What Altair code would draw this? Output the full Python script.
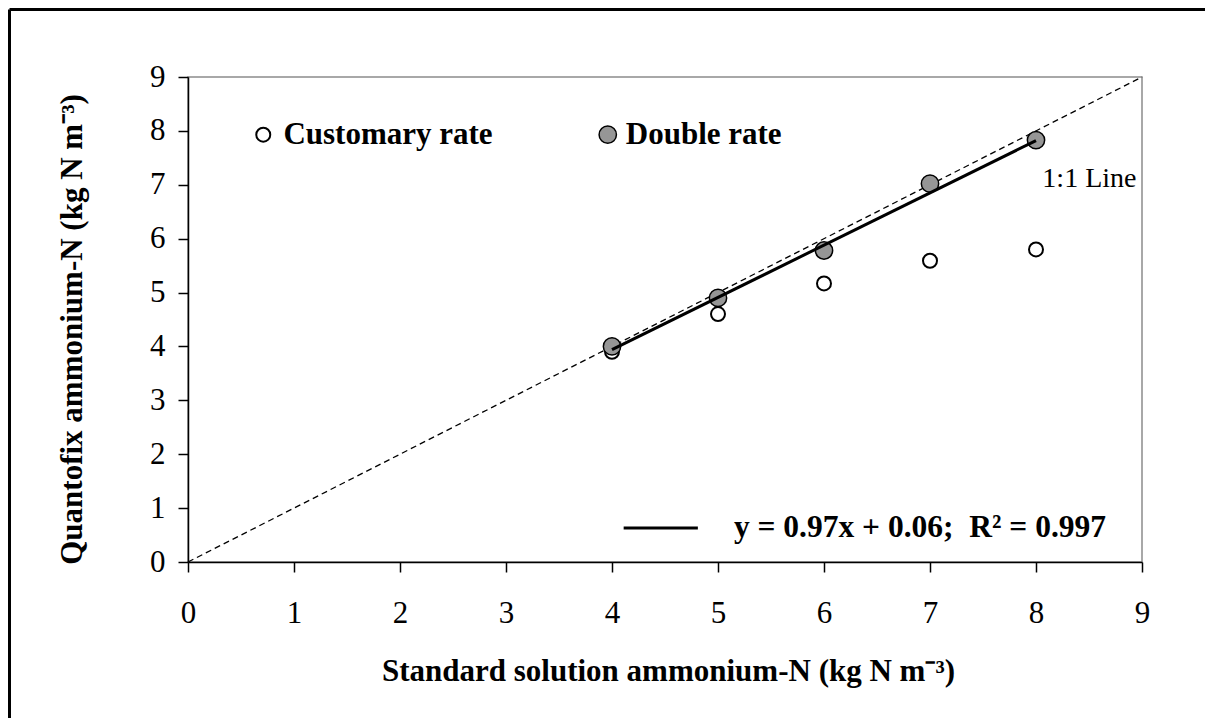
import altair as alt
import pandas as pd

# ---- data ----
x_std = [4, 5, 6, 7, 8]
customary = [3.90, 4.60, 5.17, 5.59, 5.80]
double = [4.00, 4.90, 5.78, 7.02, 7.83]
fit_x = [4, 8]
fit_y = [3.94, 7.82]
one_x = [0, 9]
one_y = [0, 9]
tick_vals = [0, 1, 2, 3, 4, 5, 6, 7, 8, 9]

legend_names = ["Customary rate", "Double rate"]
legend_sym_x = [0.71, 3.96]
legend_txt_x = [0.90, 4.13]
legend_y = [7.93, 7.93]

eq_text = "y = 0.97x + 0.06;\u00a0 R\u00b2 = 0.997"
eq_line_x = [4.11, 4.81]
eq_y = 0.63
eq_text_x = 5.15
one_label = "1:1 Line"
one_label_pos = [8.06, 7.11]

x_title = "Standard solution ammonium-N (kg N m\u207b\u00b3)"
y_title = "Quantofix ammonium-N (kg N m\u207b\u00b3)"

W, H = 954, 485
FONT = "Liberation Serif"
GRAY = "#969696"

xs = alt.Scale(domain=[0, 9], nice=False, zero=False)
ys = alt.Scale(domain=[0, 9], nice=False, zero=False)
x_axis = alt.Axis(values=tick_vals, labelPadding=26, titleX=480, titleY=109,
                  titleBaseline="middle", titleAlign="center")
y_axis = alt.Axis(values=tick_vals, labelPadding=13, titleX=-116, titleY=252,
                  titleBaseline="middle", titleAlign="center", titleAngle=270)


def X(field):
    return alt.X(field, scale=xs, title=x_title, axis=x_axis)


def Y(field):
    return alt.Y(field, scale=ys, title=y_title, axis=y_axis)


pts = pd.DataFrame({"x": x_std, "c": customary, "d": double})
fit = pd.DataFrame({"x": fit_x, "y": fit_y})
one = pd.DataFrame({"x": one_x, "y": one_y})

open_pts = alt.Chart(pts).mark_point(
    shape="circle", filled=True, fill="white", stroke="black", strokeWidth=2, size=196, opacity=1
).encode(x=X("x:Q"), y=Y("c:Q"))

gray_pts = alt.Chart(pts).mark_point(
    shape="circle", filled=True, fill=GRAY, stroke="black", strokeWidth=1.5, size=300, opacity=1
).encode(x=X("x:Q"), y=Y("d:Q"))

one_line = alt.Chart(one).mark_line(color="black", strokeWidth=1.3, strokeDash=[6, 4]).encode(
    x=X("x:Q"), y=Y("y:Q"))

fit_line = alt.Chart(fit).mark_line(color="black", strokeWidth=3).encode(
    x=X("x:Q"), y=Y("y:Q"))

leg_sym = pd.DataFrame({"x": legend_sym_x, "y": legend_y, "s": legend_names})
leg_open = alt.Chart(leg_sym.iloc[[0]]).mark_point(
    shape="circle", filled=True, fill="white", stroke="black", strokeWidth=2, size=196, opacity=1
).encode(x=X("x:Q"), y=Y("y:Q"))
leg_gray = alt.Chart(leg_sym.iloc[[1]]).mark_point(
    shape="circle", filled=True, fill=GRAY, stroke="black", strokeWidth=1.5, size=300, opacity=1
).encode(x=X("x:Q"), y=Y("y:Q"))

leg_txt = alt.Chart(pd.DataFrame({"x": legend_txt_x, "y": legend_y, "t": legend_names})).mark_text(
    align="left", baseline="middle", font=FONT, fontSize=31, fontWeight="bold", color="black"
).encode(x=X("x:Q"), y=Y("y:Q"), text="t:N")

eq_key = alt.Chart(pd.DataFrame({"x": [eq_line_x[0]], "x2": [eq_line_x[1]], "y": [eq_y]})).mark_rule(
    color="black", strokeWidth=3
).encode(x=X("x:Q"), x2="x2:Q", y=Y("y:Q"))

eq_txt = alt.Chart(pd.DataFrame({"x": [eq_text_x], "y": [eq_y], "t": [eq_text]})).mark_text(
    align="left", baseline="middle", font=FONT, fontSize=31.5, fontWeight="bold", color="black"
).encode(x=X("x:Q"), y=Y("y:Q"), text="t:N")

one_txt = alt.Chart(pd.DataFrame({"x": [one_label_pos[0]], "y": [one_label_pos[1]], "t": [one_label]})).mark_text(
    align="left", baseline="middle", font=FONT, fontSize=28, color="black"
).encode(x=X("x:Q"), y=Y("y:Q"), text="t:N")

# outer frame (decoration)
frame_top = alt.Chart(pd.DataFrame({"a": [0]})).mark_rule(color="black", strokeWidth=3).encode(
    x=alt.value(-178.5), x2=alt.value(W + 200), y=alt.value(-67.5))
frame_left = alt.Chart(pd.DataFrame({"a": [0]})).mark_rule(color="black", strokeWidth=3).encode(
    x=alt.value(-178.5), y=alt.value(-67.5), y2=alt.value(H + 300))

chart = alt.layer(
    one_line, open_pts, gray_pts, fit_line, leg_open, leg_gray, leg_txt, eq_key, eq_txt, one_txt,
    frame_top, frame_left
).properties(
    width=W, height=H,
    padding={"left": 180, "top": 69, "right": 63, "bottom": 156},
    autosize=alt.AutoSizeParams(type="none"),
).configure_view(
    stroke="#8c8c8c", strokeWidth=1.5
).configure_axis(
    domainColor="black", domainWidth=1.5, tickColor="black", tickWidth=1.5, tickSize=10,
    labelFont=FONT, labelFontSize=31, labelColor="black", labelFlush=False, labelOverlap=False,
    titleFont=FONT, titleFontSize=31, titleFontWeight="bold", titleColor="black", grid=False,
)

chart.save("out.html", embed_options={"renderer": "svg", "actions": False})
